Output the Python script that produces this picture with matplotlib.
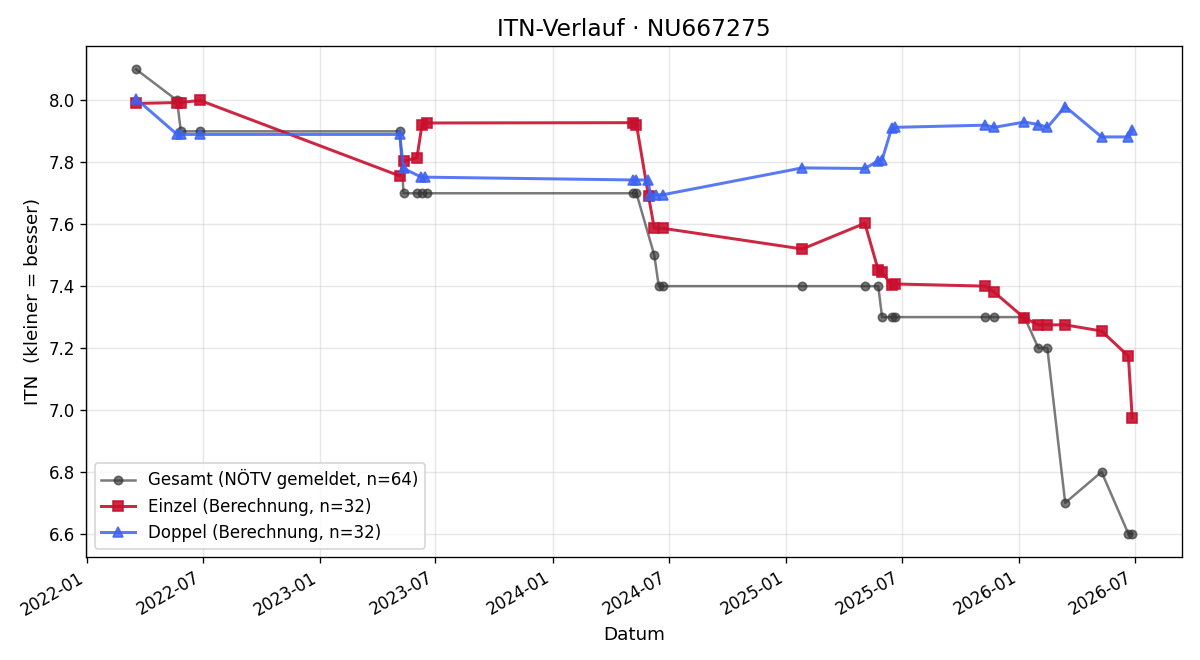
import matplotlib
matplotlib.use("Agg")
import matplotlib.pyplot as plt
import matplotlib.dates as mdates
import pandas as pd

gesamt_dates = ["2022-03-19", "2022-05-22", "2022-05-28", "2022-06-27", "2023-05-06", "2023-05-12",
                "2023-06-02", "2023-06-10", "2023-06-17", "2024-05-05", "2024-05-11", "2024-06-08",
                "2024-06-15", "2024-06-21", "2025-01-26", "2025-05-04", "2025-05-25", "2025-05-31",
                "2025-06-15", "2025-06-21", "2025-11-09", "2025-11-23", "2026-01-09", "2026-01-31",
                "2026-02-14", "2026-03-14", "2026-05-10", "2026-06-21", "2026-06-27"]
gesamt = [8.1, 8.0, 7.9, 7.9, 7.9, 7.7, 7.7, 7.7, 7.7, 7.7, 7.7, 7.5, 7.4, 7.4, 7.4, 7.4, 7.4,
          7.3, 7.3, 7.3, 7.3, 7.3, 7.3, 7.2, 7.2, 6.7, 6.8, 6.6, 6.6]

einzel_dates = ["2022-03-19", "2022-05-22", "2022-05-28", "2022-06-27", "2023-05-06", "2023-05-12",
                "2023-06-02", "2023-06-10", "2023-06-17", "2024-05-05", "2024-05-11", "2024-05-30",
                "2024-06-08", "2024-06-21", "2025-01-26", "2025-05-04", "2025-05-25", "2025-05-31",
                "2025-06-15", "2025-06-21", "2025-11-09", "2025-11-23", "2026-01-09", "2026-01-31",
                "2026-02-14", "2026-03-14", "2026-05-10", "2026-06-21", "2026-06-27"]
einzel = [7.99, 7.993, 7.993, 8.0, 7.756, 7.803, 7.815, 7.922, 7.927, 7.928, 7.922, 7.69,
          7.587, 7.587, 7.52, 7.603, 7.452, 7.445, 7.403, 7.407, 7.40, 7.38, 7.297, 7.275,
          7.275, 7.275, 7.255, 7.174, 6.974]

doppel_dates = ["2022-03-19", "2022-05-22", "2022-05-28", "2022-06-27", "2023-05-06", "2023-05-12",
                "2023-06-09", "2023-06-15", "2024-05-05", "2024-05-11", "2024-05-29", "2024-06-02",
                "2024-06-10", "2024-06-21", "2025-01-26", "2025-05-04", "2025-05-25", "2025-05-31",
                "2025-06-15", "2025-06-21", "2025-11-09", "2025-11-23", "2026-01-09", "2026-01-31",
                "2026-02-14", "2026-03-14", "2026-05-10", "2026-06-21", "2026-06-27"]
doppel = [8.005, 7.89, 7.89, 7.89, 7.89, 7.78, 7.752, 7.752, 7.743, 7.743, 7.743, 7.695,
          7.695, 7.695, 7.782, 7.78, 7.805, 7.808, 7.91, 7.913, 7.92, 7.913, 7.93, 7.922,
          7.913, 7.98, 7.882, 7.882, 7.905]

fig, ax = plt.subplots(figsize=(10, 5.5), dpi=120)

ax.plot(pd.to_datetime(gesamt_dates), gesamt, marker="o", ms=5, lw=1.5, color="#333333",
        alpha=0.65, label="Gesamt (NÖTV gemeldet, n=64)")
ax.plot(pd.to_datetime(einzel_dates), einzel, marker="s", ms=6, lw=1.8, color="#C8102E",
        alpha=0.9, label="Einzel (Berechnung, n=32)")
ax.plot(pd.to_datetime(doppel_dates), doppel, marker="^", ms=6, lw=1.8, color="#3D63F2",
        alpha=0.85, label="Doppel (Berechnung, n=32)")

ax.set_title("ITN-Verlauf · NU667275", fontsize=14)
ax.set_xlabel("Datum", fontsize=11)
ax.set_ylabel("ITN  (kleiner = besser)", fontsize=11)
ax.grid(True, alpha=0.3)
ax.xaxis.set_major_locator(mdates.MonthLocator(bymonth=[1, 7]))
ax.xaxis.set_major_formatter(mdates.DateFormatter("%Y-%m"))
ax.legend(loc="lower left", fontsize=10)
fig.autofmt_xdate()

plt.subplots_adjust(left=0.072, right=0.985, top=0.93, bottom=0.156)
plt.savefig("out.png")
